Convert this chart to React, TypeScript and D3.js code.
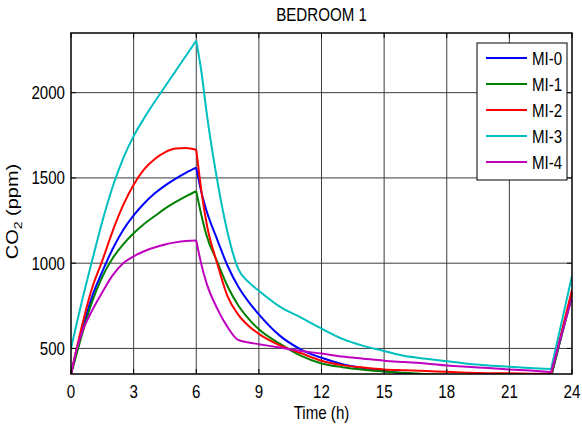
import React from "react";
import * as d3 from "d3";

const hours = [0, 0.25, 0.5, 1, 1.5, 2, 2.5, 3, 3.5, 4, 4.5, 5, 5.5, 6, 6.25, 6.5, 7, 7.5, 8, 8.5, 9, 10, 11, 12, 13, 14, 15, 16, 17, 18, 19, 20, 21, 22, 23, 24];

const mi0 = [350, 470, 590, 800, 950, 1085, 1195, 1280, 1350, 1408, 1455, 1495, 1530, 1560, 1415, 1305, 1140, 985, 865, 775, 700, 575, 495, 445, 408, 385, 368, 354, 346, 342, 340, 338, 337, 336, 335, 823];
const mi1 = [350, 460, 570, 770, 920, 1030, 1110, 1175, 1230, 1275, 1320, 1358, 1392, 1422, 1280, 1160, 1010, 865, 755, 675, 612, 528, 458, 412, 390, 375, 364, 357, 350, 346, 343, 341, 340, 339, 338, 810];
const mi2 = [350, 490, 620, 850, 1015, 1190, 1340, 1460, 1550, 1610, 1650, 1672, 1676, 1665, 1420, 1230, 1000, 805, 700, 633, 585, 518, 473, 428, 402, 388, 377, 372, 367, 363, 358, 355, 354, 352, 351, 842];
const mi3 = [500, 635, 765, 1010, 1245, 1450, 1615, 1745, 1850, 1945, 2035, 2125, 2215, 2305, 2120, 1880, 1490, 1180, 970, 890, 838, 745, 682, 616, 556, 515, 485, 455, 440, 425, 410, 400, 393, 385, 380, 925];
const mi4 = [350, 485, 585, 720, 830, 930, 1000, 1040, 1070, 1092, 1110, 1122, 1130, 1133, 990, 880, 735, 625, 550, 535, 525, 505, 485, 470, 452, 440, 428, 420, 412, 400, 392, 385, 377, 370, 362, 800];

const seriesNames = ["MI-0", "MI-1", "MI-2", "MI-3", "MI-4"];
const seriesValues = [mi0, mi1, mi2, mi3, mi4];
const seriesColors = ["#0000ff", "#008000", "#ff0000", "#00bfbf", "#bf00bf"];

const xTicks = [0, 3, 6, 9, 12, 15, 18, 21, 24];
const yTicks = [500, 1000, 1500, 2000];
const breakHours = [0, 6, 23, 24];

const FONT = "'Liberation Sans', Arial, Helvetica, sans-serif";
const SX = 0.84;

function CText(props: { x: number; y: number; anchor?: string; size?: number; children: any }) {
  const { x, y, anchor = "start", size = 18, children } = props;
  return (
    <text
      transform={`translate(${x},${y}) scale(${SX},1)`}
      textAnchor={anchor}
      fontSize={size}
      fontFamily={FONT}
      fill="#000"
    >
      {children}
    </text>
  );
}

export default function App() {
  const L = 71, R = 572, T = 33, B = 374;
  const x = d3.scaleLinear().domain([0, 24]).range([L, R]);
  const y = d3.scaleLinear().domain([350, 2350]).range([B, T]);

  const line = d3
    .line<[number, number]>()
    .x((d) => x(d[0]))
    .y((d) => y(d[1]))
    .curve(d3.curveMonotoneX);

  const segIdx = breakHours.map((h) => hours.indexOf(h));

  const paths = seriesValues.map((vals) => {
    const segs: string[] = [];
    for (let s = 0; s < segIdx.length - 1; s++) {
      const pts: [number, number][] = [];
      for (let i = segIdx[s]; i <= segIdx[s + 1]; i++) pts.push([hours[i], vals[i]]);
      segs.push(line(pts) || "");
    }
    return segs;
  });

  const legX = 477, legY = 43, legW = 90, legH = 137;
  const rowY = (i: number) => 58 + i * 26;

  return (
    <svg width={582} height={428} style={{ position: "absolute", left: 0, top: 0, background: "#fff" }}>
      <rect x={0} y={0} width={582} height={428} fill="#fff" />
      <defs>
        <clipPath id="plotclip">
          <rect x={L} y={T} width={R - L} height={B - T} />
        </clipPath>
      </defs>
      <g stroke="#3c3c3c" strokeWidth={1}>
        {xTicks.slice(1, -1).map((t) => (
          <line key={"gx" + t} x1={x(t)} x2={x(t)} y1={T} y2={B} />
        ))}
        {yTicks.map((v) => (
          <line key={"gy" + v} x1={L} x2={R} y1={y(v)} y2={y(v)} />
        ))}
      </g>
      <g clipPath="url(#plotclip)" fill="none" strokeWidth={2} strokeLinejoin="round">
        {paths.map((segs, k) =>
          segs.map((d, s) => <path key={k + "-" + s} d={d} stroke={seriesColors[k]} />)
        )}
      </g>
      <rect x={L} y={T} width={R - L} height={B - T} fill="none" stroke="#000" strokeWidth={1.5} />
      <g stroke="#000" strokeWidth={1}>
        {xTicks.map((t) => (
          <g key={"tx" + t}>
            <line x1={x(t)} x2={x(t)} y1={B} y2={B - 5} />
            <line x1={x(t)} x2={x(t)} y1={T} y2={T + 5} />
          </g>
        ))}
        {yTicks.map((v) => (
          <g key={"ty" + v}>
            <line x1={L} x2={L + 5} y1={y(v)} y2={y(v)} />
            <line x1={R} x2={R - 5} y1={y(v)} y2={y(v)} />
          </g>
        ))}
      </g>
      {xTicks.map((t) => (
        <CText key={"lx" + t} x={x(t)} y={398} anchor="middle">
          {String(t)}
        </CText>
      ))}
      {yTicks.map((v) => (
        <CText key={"ly" + v} x={65} y={y(v) + 6.5} anchor="end">
          {String(v)}
        </CText>
      ))}
      <CText x={(L + R) / 2} y={21} anchor="middle">
        BEDROOM 1
      </CText>
      <CText x={(L + R) / 2} y={419} anchor="middle">
        Time (h)
      </CText>
      <text
        transform={`translate(18,${(T + B) / 2 + 8}) rotate(-90) scale(1,${SX})`}
        textAnchor="middle"
        fontSize={20}
        fontFamily={FONT}
        fill="#000"
      >
        CO
        <tspan dy={5} fontSize={14}>2</tspan>
        <tspan dy={-5}> (ppm)</tspan>
      </text>
      <rect x={legX} y={legY} width={legW} height={legH} fill="#fff" stroke="#000" strokeWidth={1} />
      {seriesNames.map((n, i) => (
        <g key={n}>
          <line x1={486} x2={527} y1={rowY(i)} y2={rowY(i)} stroke={seriesColors[i]} strokeWidth={2} />
          <CText x={532} y={rowY(i) + 7}>
            {n}
          </CText>
        </g>
      ))}
    </svg>
  );
}
